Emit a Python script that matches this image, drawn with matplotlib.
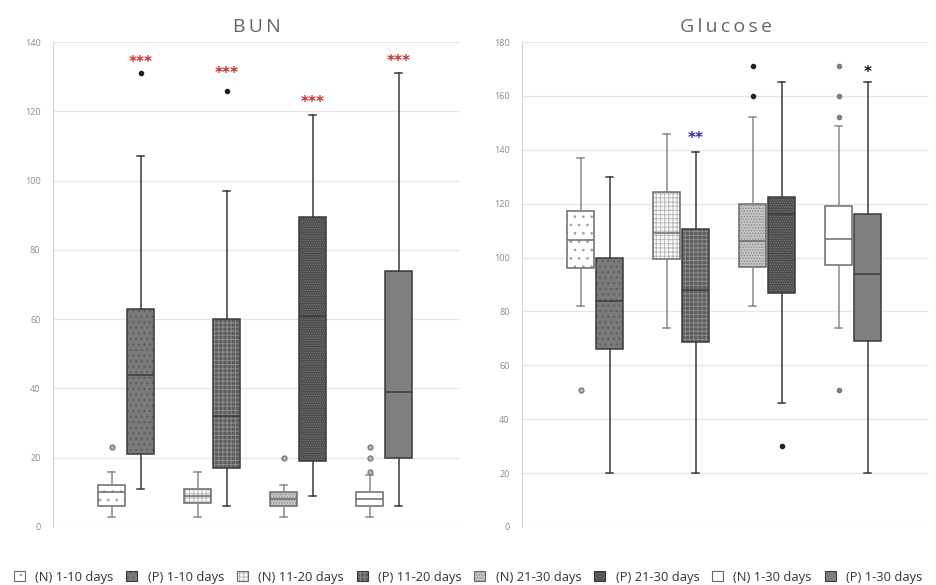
import matplotlib
matplotlib.use('Agg')
import matplotlib.pyplot as plt
from matplotlib.patches import Patch
from matplotlib.colors import to_rgba

# ---- data ----
legend_labels = ['(N) 1-10 days', '(P) 1-10 days', '(N) 11-20 days', '(P) 11-20 days',
                 '(N) 21-30 days', '(P) 21-30 days', '(N) 1-30 days', '(P) 1-30 days']

bun_whislo = [3, 11, 3, 6, 3, 9, 3, 6]
bun_q1     = [6, 21, 7, 17, 6, 19, 6, 20]
bun_med    = [10, 44, 9, 32, 8, 61, 8, 39]
bun_q3     = [12, 63, 11, 60, 10, 89.5, 10, 74]
bun_whishi = [16, 107, 16, 97, 12, 119, 15, 131]
bun_fliers = [[23], [131], [], [126], [20], [], [16, 20, 23], []]
bun_stars  = ['***', '***', '***', '***']
bun_star_y = [134, 131, 122.5, 134.5]

glu_whislo = [82, 20, 74, 20, 82, 46, 74, 20]
glu_q1     = [96, 66, 99.3, 68.5, 96.6, 87, 97.2, 69]
glu_med    = [106.6, 84, 109, 88, 106, 116, 107, 94]
glu_q3     = [117.3, 100, 124.3, 110.6, 119.7, 122.6, 119, 116]
glu_whishi = [137, 130, 146, 139, 152, 165, 149, 165]
glu_fliers = [[51], [], [], [], [160, 171], [30], [51, 152, 160, 171], []]
glu_stars  = ['', '**', '', '*']
glu_star_y = [0, 144, 0, 168.8]

# ---- styles ----
face   = ['#ffffff', '#7a7a7a', '#fafafa', '#5c5c5c', '#c6c6c6', '#4a4a4a', '#ffffff', '#7f7f7f']
hatch  = ['..', '...', '++++', '++++', '......', '.......', None, None]
hcolor = ['#a0a0a0', '#5a5a5a', '#b8b8b8', '#8c8c8c', '#8a8a8a', '#7a7a7a', '#000000', '#000000']
edge   = ['#6a6a6a', '#3a3a3a'] * 4
wcol   = ['#8a8a8a', '#3a3a3a'] * 4
star_col_bun = '#c62f2f'
star_col_glu = ['#000000', '#2b2ba8', '#000000', '#111111']

plt.rcParams['font.family'] = ['Open Sans', 'DejaVu Sans']
plt.rcParams['hatch.linewidth'] = 0.7

fig = plt.figure(figsize=(9.36, 5.85), dpi=100)
ax1 = fig.add_axes([53/936, 58/585, 407/936, 485/585])
ax2 = fig.add_axes([522/936, 58/585, 407/936, 485/585])

offs = [-0.168, 0.168]
pos = [g + offs[k] for g in range(4) for k in range(2)]


def draw(ax, lo, q1, med, q3, hi, fl, ymax, title):
    stats = []
    for i in range(8):
        stats.append({'whislo': lo[i], 'q1': q1[i], 'med': med[i], 'q3': q3[i],
                      'whishi': hi[i], 'fliers': fl[i]})
    r = ax.bxp(stats, positions=pos, widths=0.31, patch_artist=True,
               showfliers=True, capwidths=0.08)
    for i, b in enumerate(r['boxes']):
        b.set_facecolor(face[i])
        b.set_edgecolor(edge[i])
        b.set_linewidth(1.1)
        if hatch[i]:
            b.set_hatch(hatch[i])
            b._hatch_color = to_rgba(hcolor[i])
    for i in range(8):
        for w in r['whiskers'][2*i:2*i+2] + r['caps'][2*i:2*i+2]:
            w.set_color(wcol[i])
            w.set_linewidth(1.1)
        r['medians'][i].set_color(edge[i])
        r['medians'][i].set_linewidth(1.1)
        f = r['fliers'][i]
        f.set_marker('o')
        f.set_markersize(3.5)
        if i % 2 == 0:
            f.set_markerfacecolor('#b8b8b8')
            f.set_markeredgecolor('#7a7a7a')
        else:
            f.set_markerfacecolor('#222222')
            f.set_markeredgecolor('#222222')
            f.set_markersize(3)
    ax.set_xlim(-0.85, 3.88)
    ax.set_ylim(0, ymax)
    ax.set_yticks(range(0, ymax + 1, 20))
    ax.set_xticks([])
    ax.grid(axis='y', color='#e6e6e6', linewidth=0.9)
    ax.set_axisbelow(True)
    for s in ['top', 'right', 'bottom']:
        ax.spines[s].set_visible(False)
    ax.spines['left'].set_color('#d4d4d4')
    ax.tick_params(axis='y', length=0, pad=9, labelsize=6.5, labelcolor='#8a8a8a')
    ax.set_title(title, fontsize=14, color='#666666', pad=7)
    return r


r1 = draw(ax1, bun_whislo, bun_q1, bun_med, bun_q3, bun_whishi, bun_fliers, 140,
          'B\u2009U\u2009N')
r2 = draw(ax2, glu_whislo, glu_q1, glu_med, glu_q3, glu_whishi, glu_fliers, 180,
          'G\u2009l\u2009u\u2009c\u2009o\u2009s\u2009e')

# glucose fliers for N 21-30 are dark, N 1-30 are grey
r2['fliers'][4].set_markerfacecolor('#222222')
r2['fliers'][4].set_markeredgecolor('#222222')
r2['fliers'][4].set_markersize(3)
r2['fliers'][6].set_markerfacecolor('#888888')
r2['fliers'][6].set_markeredgecolor('#777777')
r2['fliers'][6].set_markersize(3)

for g in range(4):
    ax1.text(g + offs[1], bun_star_y[g], bun_stars[g], ha='center', va='center',
             fontsize=11, fontweight='bold', color=star_col_bun, family='DejaVu Sans')
    if glu_stars[g]:
        ax2.text(g + offs[1], glu_star_y[g], glu_stars[g], ha='center', va='center',
                 fontsize=11, fontweight='bold', color=star_col_glu[g], family='DejaVu Sans')

handles = []
for i in range(8):
    p = Patch(facecolor=face[i], edgecolor=edge[i], hatch=hatch[i], linewidth=0.8)
    handles.append(p)
leg = fig.legend(handles, legend_labels, loc='center', bbox_to_anchor=(0.5, 8/585),
                 ncol=8, frameon=False, fontsize=9.3, handlelength=0.85, handleheight=0.8,
                 handletextpad=0.8, columnspacing=1.0, labelcolor='#333333')
for i, h in enumerate(leg.legend_handles):
    if hatch[i]:
        h._hatch_color = to_rgba(hcolor[i])

fig.savefig('out.png', dpi=100)
